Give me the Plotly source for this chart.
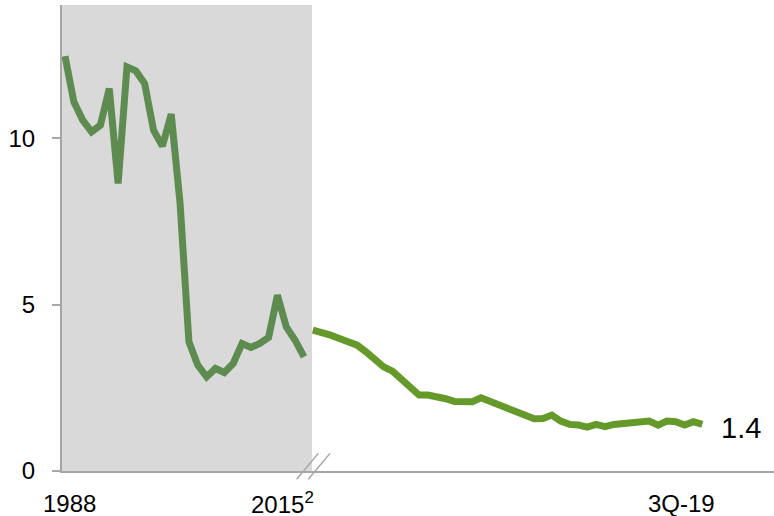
import plotly.graph_objects as go

# Annual values 1988-2015
annual_years = list(range(1988, 2016))
annual_values = [12.46, 11.09, 10.54, 10.19, 10.39, 11.49, 8.64, 12.14, 12.02, 11.64,
                 10.24, 9.76, 10.72, 8.04, 3.88, 3.18, 2.83, 3.08, 2.96, 3.23,
                 3.83, 3.71, 3.83, 4.01, 5.28, 4.33, 3.93, 3.43]

# Monthly values after the break, ending 3Q-19
recent_values = [4.23, 4.18, 4.08, 3.98, 3.88, 3.78, 3.58, 3.32, 3.13, 3.00,
                 2.78, 2.50, 2.28, 2.28, 2.25, 2.17, 2.09, 2.08, 2.08, 2.20,
                 2.10, 1.98, 1.86, 1.75, 1.65, 1.57, 1.58, 1.68, 1.50, 1.40,
                 1.38, 1.32, 1.40, 1.33, 1.40, 1.42, 1.43, 1.50, 1.50, 1.38,
                 1.50, 1.48, 1.38, 1.48, 1.40]

x_tick_labels = ["1988", "2015<sup>2</sup>", "3Q-19"]
y_ticks = [0, 5, 10]
end_label = "1.4"

x_annual = list(range(len(annual_values)))
x_recent = list(range(len(annual_values), len(annual_values) + len(recent_values)))

FONT = "Liberation Sans, Arial, sans-serif"

fig = go.Figure()
fig.add_trace(go.Scatter(x=x_annual, y=annual_values, mode="lines",
                         line=dict(color="#5E8B4F", width=7), hoverinfo="skip",
                         showlegend=False, cliponaxis=False))
fig.add_trace(go.Scatter(x=x_recent, y=recent_values, mode="lines",
                         line=dict(color="#659A2B", width=7), hoverinfo="skip",
                         showlegend=False, cliponaxis=False))

shapes = [
    dict(type="rect", xref="paper", yref="paper", x0=0, x1=0.3511, y0=0, y1=1,
         fillcolor="#D9D9D9", line=dict(width=0), layer="below"),
    dict(type="line", xref="paper", yref="paper", x0=0.3296, y0=-0.0178, x1=0.3600, y1=0.0378,
         line=dict(color="#A6A6A6", width=1.5)),
    dict(type="line", xref="paper", yref="paper", x0=0.3459, y0=-0.0178, x1=0.3764, y1=0.0378,
         line=dict(color="#A6A6A6", width=1.5)),
]

tick_x_paper = [0.0112, 0.3090, 0.8694]
annotations = []
for lbl, xp in zip(x_tick_labels, tick_x_paper):
    annotations.append(dict(text=lbl, xref="paper", yref="paper", x=xp, y=-0.0697,
                            xanchor="center", yanchor="middle", showarrow=False,
                            font=dict(family=FONT, size=24, color="#000000")))
annotations.append(dict(text=end_label, xref="x", yref="y", x=x_recent[-1], y=recent_values[-1],
                        xanchor="left", yanchor="middle", xshift=17, yshift=-4, showarrow=False,
                        font=dict(family=FONT, size=29, color="#000000")))

fig.update_layout(
    width=774, height=516,
    margin=dict(l=62, r=0, t=5, b=45),
    paper_bgcolor="white", plot_bgcolor="white",
    shapes=shapes, annotations=annotations,
    xaxis=dict(range=[-0.34, 80.1], showgrid=False, zeroline=False, showticklabels=False,
               showline=True, linecolor="#A6A6A6", linewidth=2, ticks=""),
    yaxis=dict(range=[0, 14], showgrid=False, zeroline=False, tickvals=y_ticks,
               ticktext=[str(v) for v in y_ticks], ticks="outside", ticklen=8,
               tickcolor="#A6A6A6", tickwidth=2, showline=True, linecolor="#A6A6A6",
               linewidth=2, ticklabelstandoff=12,
               tickfont=dict(family=FONT, size=24, color="#000000")),
)

fig.write_html("out.html", config={"displayModeBar": False},
               post_script="document.body.style.margin='0';document.body.style.overflow='hidden';")
